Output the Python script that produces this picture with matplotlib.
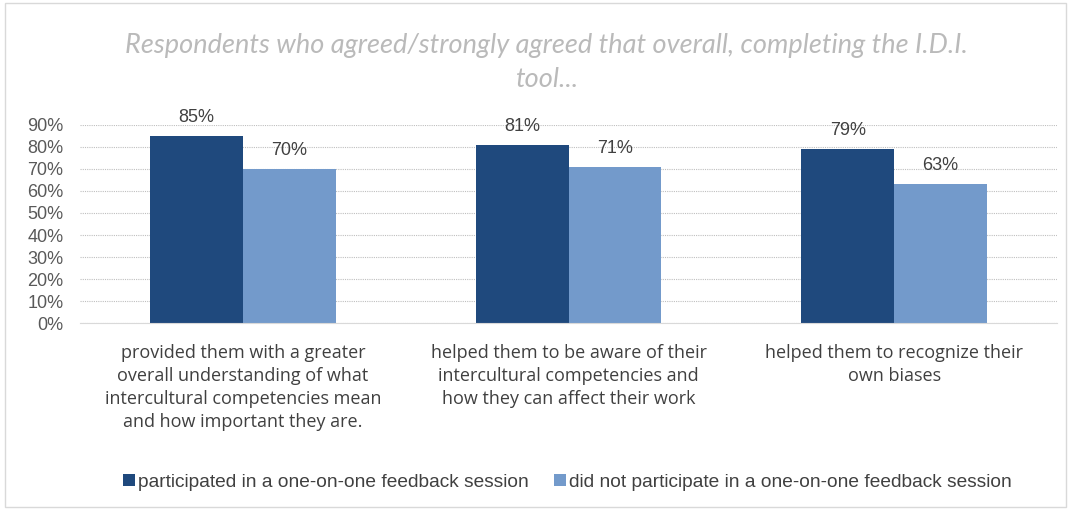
import matplotlib.pyplot as plt
import numpy as np
from matplotlib.patches import Rectangle

categories = ["provided them with a greater\noverall understanding of what\nintercultural competencies mean\nand how important they are.",
              "helped them to be aware of their\nintercultural competencies and\nhow they can affect their work",
              "helped them to recognize their\nown biases"]
participated = [0.85, 0.81, 0.79]
not_participated = [0.70, 0.71, 0.63]
series_names = ["participated in a one-on-one feedback session",
                "did not participate in a one-on-one feedback session"]

dark = "#1F497D"
light = "#739ACB"

fig = plt.figure(figsize=(10.71, 5.12), dpi=100)
ax = fig.add_axes([0.0747, 0.369, 0.9123, 0.387])

x = np.arange(len(categories))
w = 0.285
b1 = ax.bar(x - w / 2, participated, w, color=dark, label=series_names[0])
b2 = ax.bar(x + w / 2, not_participated, w, color=light, label=series_names[1])

for bars, vals in [(b1, participated), (b2, not_participated)]:
    for r, v in zip(bars, vals):
        ax.text(r.get_x() + r.get_width() / 2, v + 0.045, "%d%%" % round(v * 100),
                ha="center", va="bottom", fontsize=13, color="#404040",
                family="Liberation Sans")

ax.set_xlim(-0.5, 2.5)
ax.set_ylim(0, 0.9)
ax.set_yticks(np.arange(0, 0.91, 0.1))
ax.set_yticklabels(["%d%%" % t for t in range(0, 91, 10)], fontsize=13,
                   color="#595959", family="Liberation Sans")
ax.set_xticks(x)
ax.set_xticklabels(categories, fontsize=13, color="#404040", family="Open Sans",
                   linespacing=1.36, va="top")
ax.tick_params(axis="both", length=0)
ax.tick_params(axis="x", pad=15)
ax.tick_params(axis="y", pad=12)
ax.grid(axis="y", color="#BFBFBF", linestyle=(0, (1, 1)), linewidth=0.8)
ax.set_axisbelow(True)
for s in ["top", "right", "left"]:
    ax.spines[s].set_visible(False)
ax.spines["bottom"].set_color("#D9D9D9")

fig.text(0.51, 0.877, "Respondents who agreed/strongly agreed that overall, completing the I.D.I.\ntool...",
         ha="center", va="center", fontsize=19.5, style="italic", color="#BABABA",
         family="Lato", linespacing=1.45)

fig.legend(handles=[b1, b2], loc="center", bbox_to_anchor=(0.53, 0.058), ncol=2,
           frameon=False, prop={"family": "Liberation Sans", "size": 13.8},
           handlelength=0.6, handleheight=0.6, handletextpad=0.2, columnspacing=1.3,
           labelcolor="#404040")

fig.patches.append(Rectangle((0.005, 0.01), 0.99, 0.985, transform=fig.transFigure,
                             fill=False, edgecolor="#D9D9D9", linewidth=1))

fig.savefig("out.png", dpi=100)
